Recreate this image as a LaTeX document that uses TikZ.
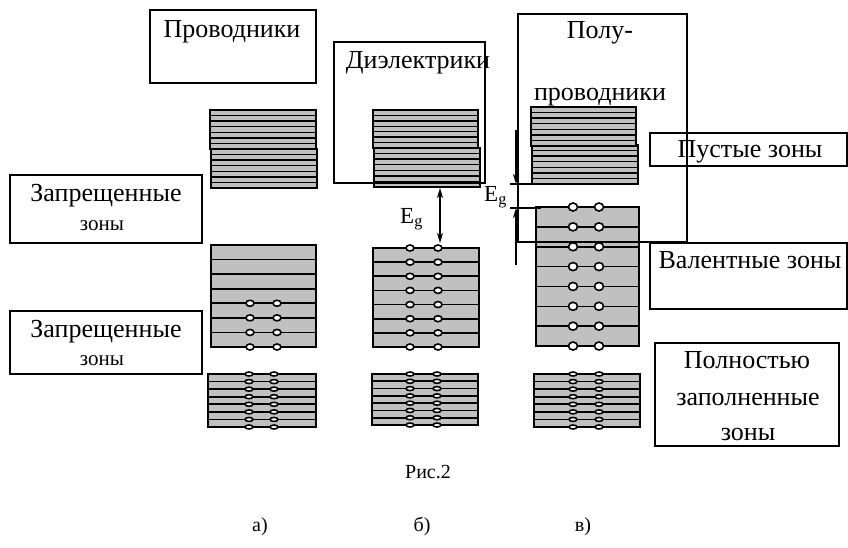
\documentclass[tikz,border=0pt]{standalone}
\usepackage{fontspec}
\setmainfont{Liberation Serif}
\usepackage{tikz}
\usetikzlibrary{arrows, arrows.meta}
\definecolor{bandgray}{RGB}{192,192,192}
\tikzstyle{zone}=[draw, fill=bandgray, line width=1.5pt]
\tikzstyle{lvl}=[line width=1.6pt]
\tikzstyle{el}=[draw, fill=white, line width=1.6pt]
\tikzstyle{box}=[draw, line width=1.8pt]
\tikzstyle{txt}=[font=\fontsize{26}{30}\selectfont, anchor=base, inner sep=0pt]
\tikzstyle{smalltxt}=[font=\fontsize{21}{25}\selectfont, anchor=base, inner sep=0pt]
\tikzstyle{captxt}=[font=\fontsize{20}{24}\selectfont, anchor=base, inner sep=0pt]
\tikzstyle{egtxt}=[font=\fontsize{23}{27}\selectfont, anchor=base west, inner sep=0pt]
\tikzset{>={Stealth[length=10pt, width=6pt, inset=3pt]}}

\begin{document}
\begin{tikzpicture}[x=1pt, y=-1pt]
\useasboundingbox (0,0) rectangle (848,547);
% the empty (upper) zones
\foreach \i in {0,...,6} {
  \draw[zone] (210,110+5.57*\i) rectangle (316,115.57+5.57*\i);
  \draw[zone] (211,149+5.57*\i) rectangle (317,154.57+5.57*\i);
  \draw[zone] (373,110+5.43*\i) rectangle (478,115.43+5.43*\i);
  \draw[zone] (374,148+5.57*\i) rectangle (480,153.57+5.57*\i);
  \draw[zone] (531,107+5.57*\i) rectangle (636,112.57+5.57*\i);
  \draw[zone] (532,145+5.57*\i) rectangle (638,150.57+5.57*\i);
}
% the middle zones
\draw[zone] (211,245) rectangle (316,347);
\draw[zone] (373,248) rectangle (479,347);
\draw[zone] (536,207) rectangle (639,346);
\foreach \i in {1,...,6} {
  \draw[lvl] (211,245+14.57*\i) -- (316,245+14.57*\i);
  \draw[lvl] (373,248+14.14*\i) -- (479,248+14.14*\i);
  \draw[lvl] (536,207+19.86*\i) -- (639,207+19.86*\i);
}
% electrons in the middle zones
\foreach \i in {4,...,7} {
  \draw[el] (250,245+14.57*\i) ellipse [x radius=4pt, y radius=3pt];
  \draw[el] (277,245+14.57*\i) ellipse [x radius=4pt, y radius=3pt];
}
\foreach \i in {0,...,7} {
  \draw[el] (410,248+14.14*\i) ellipse [x radius=4pt, y radius=3pt];
  \draw[el] (438,248+14.14*\i) ellipse [x radius=4pt, y radius=3pt];
  \draw[el] (573,207+19.86*\i) ellipse [x radius=4.5pt, y radius=4pt];
  \draw[el] (599,207+19.86*\i) ellipse [x radius=4.5pt, y radius=4pt];
}
% the filled (lower) zones
\draw[zone] (208,374) rectangle (316,427);
\draw[zone] (372,374) rectangle (478,425);
\draw[zone] (534,374) rectangle (640,427);
\foreach \i in {1,...,6} {
  \draw[lvl] (208,374+7.57*\i) -- (316,374+7.57*\i);
  \draw[lvl] (372,374+7.29*\i) -- (478,374+7.29*\i);
  \draw[lvl] (534,374+7.57*\i) -- (640,374+7.57*\i);
}
\foreach \i in {0,...,7} {
  \draw[el] (249,374+7.57*\i) ellipse [x radius=4pt, y radius=2pt];
  \draw[el] (274,374+7.57*\i) ellipse [x radius=4pt, y radius=2pt];
  \draw[el] (410,374+7.29*\i) ellipse [x radius=4pt, y radius=2pt];
  \draw[el] (437,374+7.29*\i) ellipse [x radius=4pt, y radius=2pt];
  \draw[el] (573,374+7.57*\i) ellipse [x radius=4pt, y radius=2pt];
  \draw[el] (599,374+7.57*\i) ellipse [x radius=4pt, y radius=2pt];
}
% the label boxes
\draw[box] (150,10) rectangle (316,83);
\draw[box] (334,42) rectangle (485,183);
\draw[box] (650,133) rectangle (847,166);
\draw[box] (518,14) rectangle (687,242);
\draw[box] (650,243) rectangle (847,309);
\draw[box] (655,343) rectangle (839,446);
\draw[box] (10,175) rectangle (202,243);
\draw[box] (10,311) rectangle (202,374);
% the texts
\node[txt] (prov) at (232,37) {Проводники};
\node[txt] (diel) at (418,68) {Диэлектрики};
\node[txt] (polu1) at (600,38) {Полу-};
\node[txt] (polu2) at (600,100) {проводники};
\node[txt] (empty) at (750,157) {Пустые зоны};
\node[txt] (val) at (750,268) {Валентные зоны};
\node[txt] (full1) at (747,368) {Полностью};
\node[txt] (full2) at (748,405) {заполненные};
\node[txt] (full3) at (748,440) {зоны};
\node[txt] (forb1) at (106,201) {Запрещенные};
\node[smalltxt] (forb1z) at (102,230) {зоны};
\node[txt] (forb2) at (106,337) {Запрещенные};
\node[smalltxt] (forb2z) at (102,365) {зоны};
\node[captxt] (fig) at (428,478) {Рис.2};
\node[captxt] (ca) at (260,531) {а)};
\node[captxt] (cb) at (422,531) {б)};
\node[captxt] (cc) at (583,531) {в)};
% the band gaps
\coordinate (gb1) at (440,188);
\coordinate (gb2) at (440,243);
\draw[<->, lvl] (gb1) -- (gb2);
\node[egtxt] (egb) at (400,223) {E\textsubscript{g}};
\coordinate (gc1) at (516,130);
\coordinate (gc2) at (516,184);
\coordinate (gc3) at (516,265);
\coordinate (gc4) at (516,208);
\coordinate (lc1) at (510,184);
\coordinate (lc2) at (541,184);
\coordinate (lc3) at (510,208);
\coordinate (lc4) at (541,208);
\draw[->, lvl] (gc1) -- (gc2);
\draw[->, lvl] (gc3) -- (gc4);
\draw[lvl] (lc1) -- (lc2);
\draw[lvl] (lc3) -- (lc4);
\node[egtxt] (egc) at (484,201) {E\textsubscript{g}};
\end{tikzpicture}
\end{document}
